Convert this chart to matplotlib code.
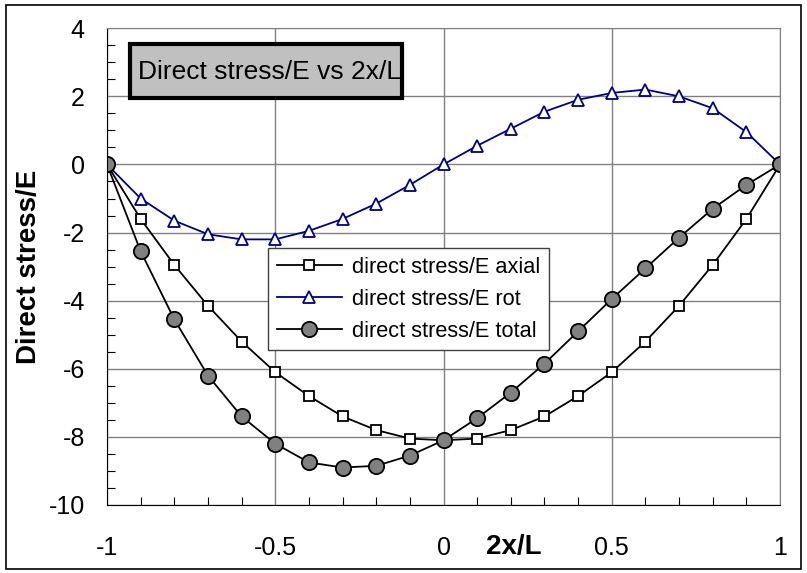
import matplotlib.pyplot as plt
from matplotlib.patches import Rectangle
from matplotlib.ticker import MultipleLocator

plt.rcParams['font.family'] = ['Liberation Sans', 'DejaVu Sans']
plt.rcParams['axes.unicode_minus'] = False

x = [-1.0, -0.9, -0.8, -0.7, -0.6, -0.5, -0.4, -0.3, -0.2, -0.1, 0.0,
     0.1, 0.2, 0.3, 0.4, 0.5, 0.6, 0.7, 0.8, 0.9, 1.0]
axial = [0, -1.6, -2.95, -4.15, -5.2, -6.1, -6.8, -7.4, -7.8, -8.05, -8.1,
         -8.05, -7.8, -7.4, -6.8, -6.1, -5.2, -4.15, -2.95, -1.6, 0]
rot = [0, -1.0, -1.65, -2.05, -2.2, -2.2, -1.95, -1.6, -1.15, -0.6, 0,
       0.55, 1.05, 1.55, 1.9, 2.1, 2.2, 2.0, 1.65, 0.95, 0]
total = [0, -2.55, -4.55, -6.2, -7.4, -8.2, -8.75, -8.9, -8.85, -8.55, -8.1,
         -7.45, -6.7, -5.85, -4.9, -3.95, -3.05, -2.15, -1.3, -0.6, 0]

fig = plt.figure(figsize=(8.07, 5.73), dpi=100)
ax = fig.add_axes([0.1326, 0.1187, 0.834, 0.832])

ax.plot(x, axial, color='black', lw=1.3, marker='s', ms=7, mfc='white',
        mec='black', mew=1.3, label='direct stress/E axial')
ax.plot(x, rot, color='#000080', lw=1.3, marker='^', ms=8, mfc='white',
        mec='#000080', mew=1.3, label='direct stress/E rot')
ax.plot(x, total, color='black', lw=1.3, marker='o', ms=11, mfc='#808080',
        mec='black', mew=1.3, label='direct stress/E total')

ax.set_xlim(-1, 1)
ax.set_ylim(-10, 4)
ax.xaxis.set_minor_locator(MultipleLocator(0.1))
ax.yaxis.set_major_locator(MultipleLocator(2))
ax.yaxis.set_minor_locator(MultipleLocator(0.5))
ax.set_xticks([-1, -0.5, 0, 0.5, 1])
ax.set_xticklabels(['-1', '-0.5', '0', '0.5', '1'])
ax.tick_params(which='major', direction='in', length=0, labelsize=18)
ax.tick_params(axis='x', which='major', pad=22)
ax.tick_params(axis='y', which='major', pad=16)
ax.tick_params(which='minor', direction='in', length=6, width=0.8)
ax.grid(True, which='major', color='#808080', lw=1)
for s in ax.spines.values():
    s.set_color('#808080')
ax.spines['left'].set_color('black')
ax.spines['bottom'].set_color('black')

ax.set_ylabel('Direct stress/E', fontsize=20, fontweight='bold')
ax.yaxis.set_label_coords(-0.096, 0.5)
fig.text(0.637, 0.046, '2x/L', fontsize=20, fontweight='bold',
         ha='center', va='center')

# title box
ax.add_patch(Rectangle((0.034, 0.853), 0.404, 0.113, transform=ax.transAxes,
                       fc='#c0c0c0', ec='black', lw=3, zorder=5))
ax.text(0.046, 0.909, 'Direct stress/E vs 2x/L', transform=ax.transAxes,
        fontsize=19, va='center', ha='left', zorder=6)

leg = ax.legend(loc='upper left', bbox_to_anchor=(0.239, 0.539), fontsize=15.7,
                frameon=True, fancybox=False, edgecolor='#404040', framealpha=1,
                handlelength=3.0, handletextpad=0.45, borderpad=0.4,
                labelspacing=0.5, borderaxespad=0)
leg.get_frame().set_linewidth(1)

fig.patches.append(Rectangle((0.007, 0.007), 0.985, 0.984, transform=fig.transFigure,
                             fill=False, ec='black', lw=1.2))

fig.savefig('out.png', dpi=100)
